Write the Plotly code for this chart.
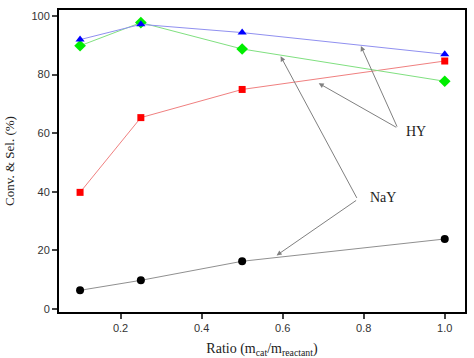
import plotly.graph_objects as go

ratio = [0.1, 0.25, 0.5, 1.0]
hy_blue = [91.9, 97.1, 94.3, 86.9]
hy_green = [89.8, 97.7, 88.7, 77.7]
hy_red = [39.8, 65.3, 74.9, 84.6]
nay_black = [6.4, 9.8, 16.3, 23.9]

x_ticks = [0.2, 0.4, 0.6, 0.8, 1.0]
y_ticks = [0, 20, 40, 60, 80, 100]

SERIF = "Liberation Serif, Times New Roman, DejaVu Serif, serif"

fig = go.Figure()
series = [
    (hy_red, "#f08080", "red", "square", 7),
    (hy_green, "#80e080", "#00ee00", "diamond", 9),
    (hy_blue, "#9090f0", "#0000ff", "triangle-up", 8),
    (nay_black, "#909090", "black", "circle", 8),
]
for vals, lc, mc, sym, sz in series:
    fig.add_trace(go.Scatter(
        x=ratio, y=vals, mode="lines+markers",
        line=dict(color=lc, width=1),
        marker=dict(color=mc, symbol=sym, size=sz),
        showlegend=False))

# arrows: (tail x, tail y, head x, head y)
arrows = [
    (0.884, 61.7, 0.793, 89.7),
    (0.884, 61.7, 0.689, 77.0),
    (0.785, 37.4, 0.595, 86.2),
    (0.785, 37.4, 0.585, 18.3),
]
for tx, ty, hx, hy in arrows:
    fig.add_annotation(x=hx, y=hy, ax=tx, ay=ty, xref="x", yref="y",
                       axref="x", ayref="y", text="", showarrow=True,
                       arrowhead=2, arrowsize=1, arrowwidth=1,
                       arrowcolor="#808080")

fig.add_annotation(x=0.930, y=60.5, text="HY", showarrow=False,
                   font=dict(family=SERIF, size=14, color="#222"))
fig.add_annotation(x=0.848, y=38.2, text="NaY", showarrow=False,
                   font=dict(family=SERIF, size=14, color="#222"))

fig.update_layout(
    width=474, height=358,
    margin=dict(l=59, r=9, t=10, b=46),
    paper_bgcolor="white", plot_bgcolor="white",
    xaxis=dict(range=[0.048, 1.05], tickvals=x_ticks,
               ticktext=["0.2", "0.4", "0.6", "0.8", "1.0"], automargin=False,
               showgrid=False, zeroline=False, showline=True, linecolor="black",
               linewidth=2, mirror=True, ticks="outside", ticklen=5, tickwidth=1.5,
               tickfont=dict(family="Liberation Sans", size=11, color="#333"),
               title=dict(text="Ratio (m<sub>cat</sub>/m<sub>reactant</sub>)",
                          font=dict(family=SERIF, size=14, color="#222"),
                          standoff=10)),
    yaxis=dict(range=[-1, 102], tickvals=y_ticks, automargin=False,
               showgrid=False, zeroline=False, showline=True, linecolor="black",
               linewidth=2, mirror=True, ticks="outside", ticklen=5, tickwidth=1.5,
               tickfont=dict(family="Liberation Sans", size=11, color="#333"),
               title=dict(text="Conv. &amp; Sel. (%)",
                          font=dict(family=SERIF, size=13, color="#222"),
                          standoff=14)),
)

fig.write_html("out.html", config={"displayModeBar": False},
               post_script="document.body.style.margin='0';document.body.style.overflow='hidden';")
